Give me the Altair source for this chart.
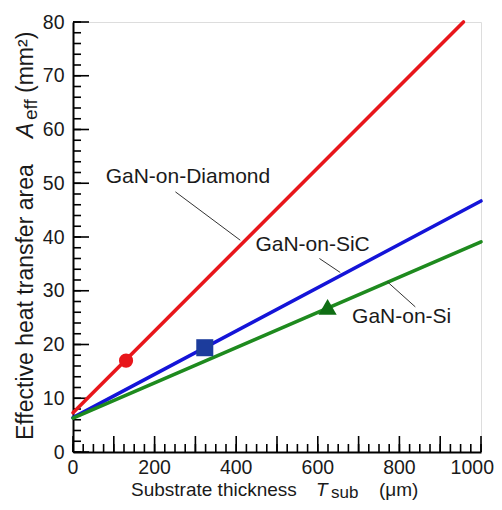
import altair as alt
import pandas as pd

# ---- data ----
series_names = ["GaN-on-Diamond", "GaN-on-SiC", "GaN-on-Si"]
line_thick = [[0, 957], [0, 1000], [0, 1000]]
line_area = [[7.3, 80.0], [6.4, 46.7], [6.3, 39.1]]
line_colors = ["#e8161b", "#1414d8", "#1e8a1e"]

marker_thick = [130, 323, 624]
marker_area = [17.0, 19.4, 27.0]
marker_shapes = ["circle", "square", "triangle-up"]
marker_colors = ["#e8161b", "#1c3c9c", "#0f6e14"]
marker_sizes = [200, 290, 330]

label_text = ["GaN-on-Diamond", "GaN-on-SiC", "GaN-on-Si"]
label_x = [80, 447, 684]
label_y = [51.2, 38.5, 25.1]
leader_x1 = [251, 604, 770]
leader_y1 = [48.4, 36.0, 31.7]
leader_x2 = [410, 655, 839]
leader_y2 = [39.4, 33.4, 27.0]

x_labels = [0, 200, 400, 600, 800]
x_label_last = [1000]
x_ticks_minor = list(range(0, 1001, 25))
x_ticks_major = list(range(0, 1001, 100))
y_labels = list(range(0, 81, 10))
y_ticks_minor = list(range(0, 81, 2))
y_ticks_major = list(range(0, 81, 10))

W, H = 408, 430
FONT = "Liberation Sans"
INK = "#1a1a1a"

xs = alt.Scale(domain=[0, 1000], nice=False, zero=False)
ys = alt.Scale(domain=[0, 80], nice=False, zero=False)
xaxis = alt.Axis(values=x_labels, ticks=False, grid=False, domainColor="black",
                 domainWidth=2, labels=False, title=None)
yaxis = alt.Axis(values=y_labels, ticks=False, grid=False, domainColor="black",
                 domainWidth=2, labelFont=FONT, labelFontSize=19.5, labelColor=INK,
                 labelPadding=9, title=None)
X = lambda f: alt.X(f, scale=xs, axis=xaxis, title=None)
Y = lambda f: alt.Y(f, scale=ys, axis=yaxis, title=None)

rows = []
for n, t, a in zip(series_names, line_thick, line_area):
    for tt, aa in zip(t, a):
        rows.append({"series": n, "x": tt, "y": aa})
lines_df = pd.DataFrame(rows)

lines = alt.Chart(lines_df).mark_line(strokeWidth=3.6, strokeCap="round").encode(
    x=X("x:Q"), y=Y("y:Q"),
    color=alt.Color("series:N", scale=alt.Scale(domain=series_names, range=line_colors), legend=None),
    detail="series:N",
)

layers = []
# ticks (inward)
xt_min = alt.Chart(pd.DataFrame({"x": x_ticks_minor})).mark_rule(color="black", strokeWidth=1.6).encode(
    x=X("x:Q"), y=alt.value(H), y2=alt.value(H - 8))
xt_maj = alt.Chart(pd.DataFrame({"x": x_ticks_major})).mark_rule(color="black", strokeWidth=1.6).encode(
    x=X("x:Q"), y=alt.value(H), y2=alt.value(H - 16))
yt_min = alt.Chart(pd.DataFrame({"y": y_ticks_minor})).mark_rule(color="black", strokeWidth=1.6).encode(
    y=Y("y:Q"), x=alt.value(0), x2=alt.value(8))
yt_maj = alt.Chart(pd.DataFrame({"y": y_ticks_major})).mark_rule(color="black", strokeWidth=1.6).encode(
    y=Y("y:Q"), x=alt.value(0), x2=alt.value(16))
layers += [xt_min, xt_maj, yt_min, yt_maj, lines]

# x tick labels
layers.append(alt.Chart(pd.DataFrame({"x": x_labels})).mark_text(
    align="center", baseline="top", font=FONT, fontSize=19.5, color=INK).encode(
    x=X("x:Q"), y=alt.value(H + 7), text=alt.Text("x:Q", format="d")))
layers.append(alt.Chart(pd.DataFrame({"x": x_label_last})).mark_text(
    align="right", baseline="top", font=FONT, fontSize=19.5, color=INK, dx=13).encode(
    x=X("x:Q"), y=alt.value(H + 7), text=alt.Text("x:Q", format="d")))

# markers
for s, c, sz, xv, yv in zip(marker_shapes, marker_colors, marker_sizes, marker_thick, marker_area):
    layers.append(alt.Chart(pd.DataFrame({"x": [xv], "y": [yv]})).mark_point(
        shape=s, filled=True, color=c, size=sz, opacity=1).encode(x=X("x:Q"), y=Y("y:Q")))

# leader lines and labels
lead_df = pd.DataFrame({"x": leader_x1, "y": leader_y1, "x2": leader_x2, "y2": leader_y2})
layers.append(alt.Chart(lead_df).mark_rule(color="#333333", strokeWidth=1).encode(
    x=X("x:Q"), y=Y("y:Q"), x2="x2:Q", y2="y2:Q"))
lab_df = pd.DataFrame({"x": label_x, "y": label_y, "t": label_text})
layers.append(alt.Chart(lab_df).mark_text(align="left", baseline="middle", font=FONT,
                                          fontSize=21, color=INK).encode(
    x=X("x:Q"), y=Y("y:Q"), text="t:N"))

# axis titles built from pieces (italic symbol, subscript)
def piece(txt, px, py, size=19, style="normal", angle=0):
    return alt.Chart(pd.DataFrame({"t": [txt]})).mark_text(
        align="left", baseline="alphabetic", font=FONT, fontSize=size, fontStyle=style,
        color=INK, angle=angle).encode(x=alt.value(px), y=alt.value(py), text="t:N")

layers += [
    piece("Substrate thickness", 58, 474),
    piece("T", 243, 474, style="italic"),
    piece("sub", 258, 476, size=17),
    piece("(\u03bcm)", 306, 474),
    piece("Effective heat transfer area", -40, 418, size=23, angle=270),
    piece("A", -40, 116, size=23, style="italic", angle=270),
    piece("eff", -36, 98, size=19, angle=270),
    piece("(mm\u00b2)", -40, 71, size=23, angle=270),
]

chart = alt.layer(*layers).properties(
    width=W, height=H,
    autosize=alt.AutoSizeParams(type="none"),
    padding={"left": 65, "top": 14, "right": 13, "bottom": 50},
).configure_view(stroke=None).configure(background="white")

chart.save("out.html", embed_options={"renderer": "svg", "actions": False})
